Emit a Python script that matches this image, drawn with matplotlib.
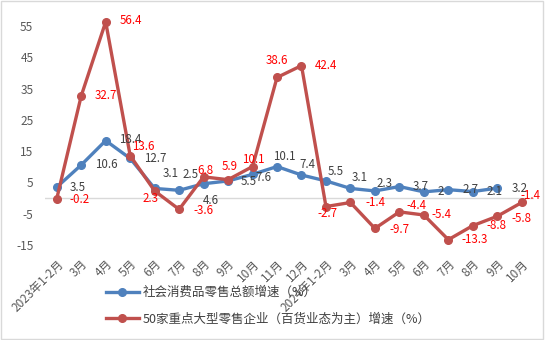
import matplotlib
matplotlib.use("Agg")
import matplotlib.pyplot as plt
from matplotlib.patches import Rectangle

plt.rcParams['font.family'] = ['Noto Sans CJK SC', 'DejaVu Sans']

categories = ["2023年1-2月", "3月", "4月", "5月", "6月", "7月", "8月", "9月", "10月", "11月", "12月",
              "2024年1-2月", "3月", "4月", "5月", "6月", "7月", "8月", "9月", "10月"]
retail_total = [3.5, 10.6, 18.4, 12.7, 3.1, 2.5, 4.6, 5.5, 7.6, 10.1, 7.4,
                5.5, 3.1, 2.3, 3.7, 2, 2.7, 2.1, 3.2]
top50_dept = [-0.2, 32.7, 56.4, 13.6, 2.3, -3.6, 6.8, 5.9, 10.1, 38.6, 42.4,
              -2.7, -1.4, -9.7, -4.4, -5.4, -13.3, -8.8, -5.8, -1.4]
name_total = "社会消费品零售总额增速（%）"
name_top50 = "50家重点大型零售企业（百货业态为主）增速（%）"
yticks = [-15, -5, 5, 15, 25, 35, 45, 55]

# label offsets in pixels (dx, dy; dy positive = up)
off_blue = [(21, 0), (25, 0), (25, 1), (25, 0), (16, 15), (11, 16), (7, -17), (21, -1), (11, -3),
            (7, 10), (6, 10), (10, 9), (9, 11), (10, 7), (21, 0), (17, 0), (22, 0), (22, 0), (22, 0)]
off_red = [(23, -1), (25, 0), (25, 1), (13, 9), (-4, -8), (24, -1), (2, 6), (2, 13), (1, 7),
           (0, 17), (25, 0), (2, -7), (25, 0), (25, -1), (17, 6), (18, 0), (26, 0), (24, 0), (24, -2), (9, 7)]

W, H = 545, 340
fig = plt.figure(figsize=(W / 100, H / 100), dpi=100)
ax = fig.add_axes([44.5 / W, 1 - 245 / H, (534 - 44.5) / W, (245 - 10.6) / H])

blue = "#4F81BD"
red = "#C0504D"
x = list(range(len(categories)))

ax.axhline(0, color="#D9D9D9", lw=1, zorder=1)
l1, = ax.plot(x[:len(retail_total)], retail_total, color=blue, lw=2.4, marker="o", ms=5.5,
              label=name_total, zorder=3)
l2, = ax.plot(x, top50_dept, color=red, lw=2.4, marker="o", ms=5.5, label=name_top50, zorder=4)

for i, v in enumerate(retail_total):
    dx, dy = off_blue[i]
    ax.annotate(f"{v:g}", (i, v), xytext=(dx * 0.72, dy * 0.72), textcoords="offset points",
                ha="center", va="center", fontsize=8.3, color="#404040", zorder=6)
for i, v in enumerate(top50_dept):
    dx, dy = off_red[i]
    ax.annotate(f"{v:g}", (i, v), xytext=(dx * 0.72, dy * 0.72), textcoords="offset points",
                ha="center", va="center", fontsize=8.3, color="#FF0000", zorder=6)

ax.set_xlim(-0.5, len(categories) - 0.5)
ax.set_ylim(-15, 60)
ax.set_yticks(yticks)
ax.set_yticklabels([str(t) for t in yticks])
ax.set_xticks(x)
ax.set_xticklabels(categories, rotation=45, ha="right", va="top", rotation_mode="anchor")
ax.tick_params(axis="both", length=0, labelsize=8.5, colors="#595959")
ax.tick_params(axis="y", pad=8)
ax.tick_params(axis="x", pad=9)
for s in ax.spines.values():
    s.set_visible(False)
ax.patch.set_alpha(0)

fig.legend(handles=[l1, l2], loc="upper left", bbox_to_anchor=(106 / W, 1 - 286 / H),
           frameon=False, fontsize=9, handlelength=2.6, handletextpad=0.3, labelspacing=1.1,
           borderpad=0, borderaxespad=0, labelcolor="#404040")

fig.patches.append(Rectangle((0.002, 0.003), 0.994, 0.994, transform=fig.transFigure,
                             fill=False, edgecolor="#D9D9D9", lw=1))

fig.savefig("out.png", dpi=100)
